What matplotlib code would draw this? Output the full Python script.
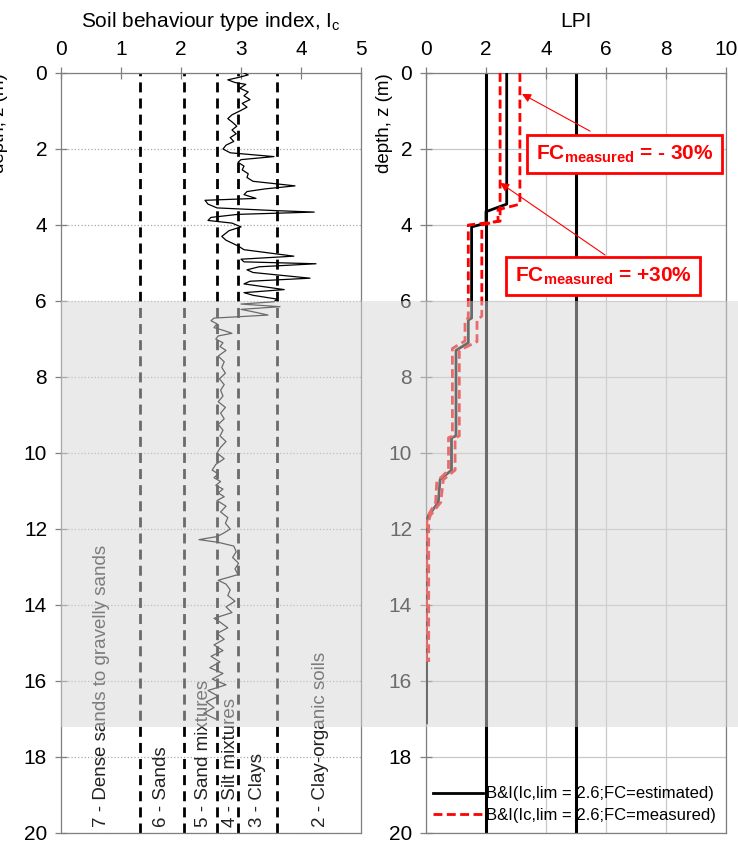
import matplotlib
matplotlib.use("Agg")
import matplotlib.pyplot as plt
import matplotlib.transforms as mtransforms
from matplotlib.patches import Rectangle

plt.rcParams["font.family"] = ["Liberation Sans", "DejaVu Sans"]
plt.rcParams["mathtext.fontset"] = "custom"
plt.rcParams["mathtext.rm"] = "Liberation Sans"
plt.rcParams["mathtext.it"] = "Liberation Sans:italic"
plt.rcParams["mathtext.bf"] = "Liberation Sans:bold"

# --- CPT soil behaviour type index profile ---
ic_depth = [0.00, 0.05, 0.12, 0.18, 0.25, 0.30, 0.40, 0.50, 0.60, 0.70, 0.80, 0.90,
            1.00, 1.10, 1.20, 1.30, 1.40, 1.50, 1.60, 1.70, 1.80, 1.90, 2.00, 2.10,
            2.20, 2.28, 2.35, 2.45, 2.55, 2.65, 2.75, 2.85, 2.97, 3.05, 3.12, 3.20,
            3.30, 3.35, 3.45, 3.55, 3.62, 3.66, 3.72, 3.80, 3.88, 3.95, 4.05, 4.15,
            4.30, 4.40, 4.55, 4.65, 4.82, 4.90, 4.97, 5.02, 5.10, 5.18, 5.25, 5.40,
            5.48, 5.55, 5.70, 5.78, 5.85, 5.95, 6.02, 6.08, 6.15, 6.22, 6.30, 6.37,
            6.45, 6.52, 6.60, 6.70, 6.78, 6.85, 6.92, 7.00, 7.10, 7.20, 7.30, 7.45,
            7.60, 7.75, 7.90, 8.05, 8.20, 8.35, 8.50, 8.65, 8.80, 8.95, 9.10, 9.25,
            9.40, 9.55, 9.70, 9.85, 10.00, 10.15, 10.30, 10.45, 10.55, 10.65, 10.75,
            10.85, 10.95, 11.05, 11.15, 11.25, 11.40, 11.55, 11.70, 11.85, 12.00,
            12.10, 12.20, 12.28, 12.35, 12.45, 12.60, 12.75, 12.90, 13.05, 13.20,
            13.35, 13.45, 13.60, 13.75, 13.90, 14.05, 14.20, 14.35, 14.45, 14.60,
            14.75, 14.90, 15.05, 15.20, 15.35, 15.50, 15.65, 15.80, 15.95, 16.10,
            16.25, 16.40, 16.55, 16.70, 16.85, 17.00]
ic_value = [3.05, 3.12, 2.95, 2.78, 2.90, 3.08, 2.98, 3.12, 3.05, 3.15, 3.02, 3.10,
            2.98, 2.85, 2.78, 2.86, 2.93, 2.85, 2.92, 2.82, 2.88, 2.75, 2.70, 2.82,
            3.55, 3.00, 2.95, 3.05, 3.02, 3.12, 3.10, 3.20, 3.90, 3.40, 3.10, 3.05,
            3.25, 2.40, 2.45, 2.60, 3.55, 4.22, 2.95, 2.50, 2.45, 2.85, 3.00, 2.80,
            2.68, 2.75, 2.95, 3.05, 3.88, 3.00, 3.05, 4.25, 3.30, 3.10, 3.20, 4.15,
            3.15, 3.05, 3.72, 3.05, 3.20, 3.60, 3.55, 3.00, 3.65, 3.00, 3.25, 3.45,
            2.55, 2.50, 2.60, 2.55, 2.72, 2.85, 2.62, 2.58, 2.70, 2.65, 2.75, 2.62,
            2.72, 2.68, 2.74, 2.64, 2.72, 2.66, 2.70, 2.62, 2.74, 2.66, 2.72, 2.62,
            2.70, 2.65, 2.75, 2.66, 2.60, 2.72, 2.58, 2.52, 2.62, 2.55, 2.66,
            2.58, 2.70, 2.62, 2.72, 2.60, 2.75, 2.66, 2.78, 2.74, 2.82,
            2.72, 2.60, 2.30, 2.62, 2.88, 2.92, 2.86, 2.96, 2.90, 2.95,
            2.62, 2.75, 2.82, 2.78, 2.90, 2.75, 2.85, 2.55, 2.65, 2.78,
            2.60, 2.72, 2.55, 2.70, 2.50, 2.65, 2.48, 2.70, 2.52, 2.75,
            2.45, 2.62, 2.42, 2.55, 2.38, 2.58]

# Ic boundaries between soil behaviour zones and the zone names
ic_limits = [1.31, 2.05, 2.60, 2.95, 3.60]
zone_names = ["7 - Dense sands to gravelly sands", "6 - Sands", "5 - Sand mixtures",
              "4 - Silt mixtures", "3 - Clays", "2 - Clay-organic soils"]
zone_ic = [0.68, 1.68, 2.37, 2.82, 3.27, 4.32]

# --- liquefaction potential index profiles (step curves) ---
lpi_est_depth = [0, 3.45, 3.65, 3.95, 4.05, 6.45, 6.50, 7.10, 7.30, 9.55, 9.60,
                 10.45, 10.70, 11.30, 11.65, 11.80, 17.10]
lpi_est = [2.69, 2.69, 2.00, 2.00, 1.52, 1.52, 1.41, 1.41, 1.00, 1.00, 0.85,
           0.85, 0.47, 0.41, 0.08, 0.02, 0.02]

lpi_minus30_depth = [0, 3.45, 3.60, 3.90, 4.00, 6.40, 6.50, 7.07, 7.30, 9.55, 9.60,
                     10.45, 10.70, 11.30, 11.65, 11.80, 15.50]
lpi_minus30 = [3.13, 3.13, 2.40, 2.40, 1.86, 1.86, 1.70, 1.70, 1.11, 1.11, 0.97,
               0.97, 0.58, 0.49, 0.14, 0.09, 0.09]

lpi_plus30_depth = [0, 3.90, 4.00, 6.45, 6.50, 7.05, 7.25, 9.55, 9.60, 10.45,
                    10.75, 11.30, 11.70, 15.50]
lpi_plus30 = [2.47, 2.47, 1.41, 1.41, 1.30, 1.30, 0.88, 0.88, 0.75, 0.75,
              0.36, 0.32, 0.03, 0.01]

lpi_classes = [2, 5]

depth_ticks = list(range(0, 21, 2))

fig = plt.figure(figsize=(7.38, 8.44), dpi=100)
ax1 = fig.add_axes([61 / 738, 11 / 844, 300 / 738, 760 / 844])
ax2 = fig.add_axes([426 / 738, 11 / 844, 300 / 738, 760 / 844])

spine_col = "#7f7f7f"
for ax in (ax1, ax2):
    ax.set_ylim(20, 0)
    ax.set_yticks(depth_ticks)
    ax.xaxis.tick_top()
    ax.tick_params(axis="both", direction="inout", length=8, width=0.9,
                   color=spine_col, labelsize=15)
    ax.tick_params(axis="x", pad=6)
    ax.tick_params(axis="y", pad=6)
    for s in ax.spines.values():
        s.set_color(spine_col)
        s.set_linewidth(0.9)

# left panel: Ic profile
ax1.set_xlim(0, 5)
ax1.set_xticks(range(0, 6))
ax1.yaxis.grid(True, linestyle=":", color="#a8a8a8", linewidth=0.9)
ax1.set_axisbelow(True)
for lim in ic_limits:
    ax1.axvline(lim, color="black", linewidth=2.0, linestyle=(0, (3.6, 2.2)), zorder=2)
ax1.plot(ic_value, ic_depth, color="black", linewidth=0.9, zorder=3)
for name, x in zip(zone_names, zone_ic):
    ax1.text(x, 19.85, name, rotation=90, ha="center", va="bottom",
             fontsize=13.5, color="#222222", zorder=4)
ax1.set_title("Soil behaviour type index, I$_\\mathrm{c}$", fontsize=15, pad=33)
ax1.set_ylabel("depth, z (m)", fontsize=13.5, loc="top")
ax1.yaxis.set_label_coords(-0.175, 1.0)

# right panel: LPI
ax2.set_xlim(0, 10)
ax2.set_xticks(range(0, 11, 2))
ax2.grid(True, color="#c8c8c8", linewidth=0.9)
ax2.set_axisbelow(True)
for v in lpi_classes:
    ax2.axvline(v, color="black", linewidth=2.2, zorder=2)
ax2.plot(lpi_est, lpi_est_depth, color="black", linewidth=2.0, zorder=3,
         label="B&I(Ic,lim = 2.6;FC=estimated)")
ax2.plot(lpi_minus30, lpi_minus30_depth, color="red", linewidth=2.0,
         linestyle=(0, (3.2, 1.6)), zorder=3, label="B&I(Ic,lim = 2.6;FC=measured)")
ax2.plot(lpi_plus30, lpi_plus30_depth, color="red", linewidth=2.0,
         linestyle=(0, (3.2, 1.6)), zorder=3)
ax2.set_title("LPI", fontsize=15, pad=33)
ax2.set_ylabel("depth, z (m)", fontsize=13.5, loc="top", labelpad=-3)
ax2.legend(loc="lower right", bbox_to_anchor=(1.0, 0.0), frameon=False,
           fontsize=12, handlelength=3.0, handletextpad=0.2,
           borderaxespad=0.2, labelspacing=0.4)

# sensitivity annotations on fines content
box = dict(boxstyle="square,pad=0.42", facecolor="white", edgecolor="red", linewidth=2)
arrow = dict(arrowstyle="-|>", color="red", linewidth=0.8, mutation_scale=13,
             shrinkA=0, shrinkB=0)
ax2.annotate("", xy=(3.2, 0.55), xytext=(5.47, 1.53), arrowprops=arrow, zorder=5)
ax2.annotate("", xy=(2.47, 2.89), xytext=(5.97, 4.79), arrowprops=arrow, zorder=5)
ax2.text(6.62, 2.13, "FC$_\\mathbf{measured}$ = - 30%", color="red", fontsize=15,
         fontweight="bold", ha="center", va="center", bbox=box, zorder=6)
ax2.text(5.9, 5.34, "FC$_\\mathbf{measured}$ = +30%", color="red", fontsize=15,
         fontweight="bold", ha="center", va="center", bbox=box, zorder=6)

# translucent band over the 6 - 17.2 m depth range, across both panels
band_tr = mtransforms.blended_transform_factory(fig.transFigure, ax1.transData)
fig.add_artist(Rectangle((61 / 738, 6.0), 1.0, 11.2, transform=band_tr,
                         facecolor="#d6d6d6", edgecolor="none", alpha=0.5, zorder=10))

fig.savefig("out.png", dpi=100)
